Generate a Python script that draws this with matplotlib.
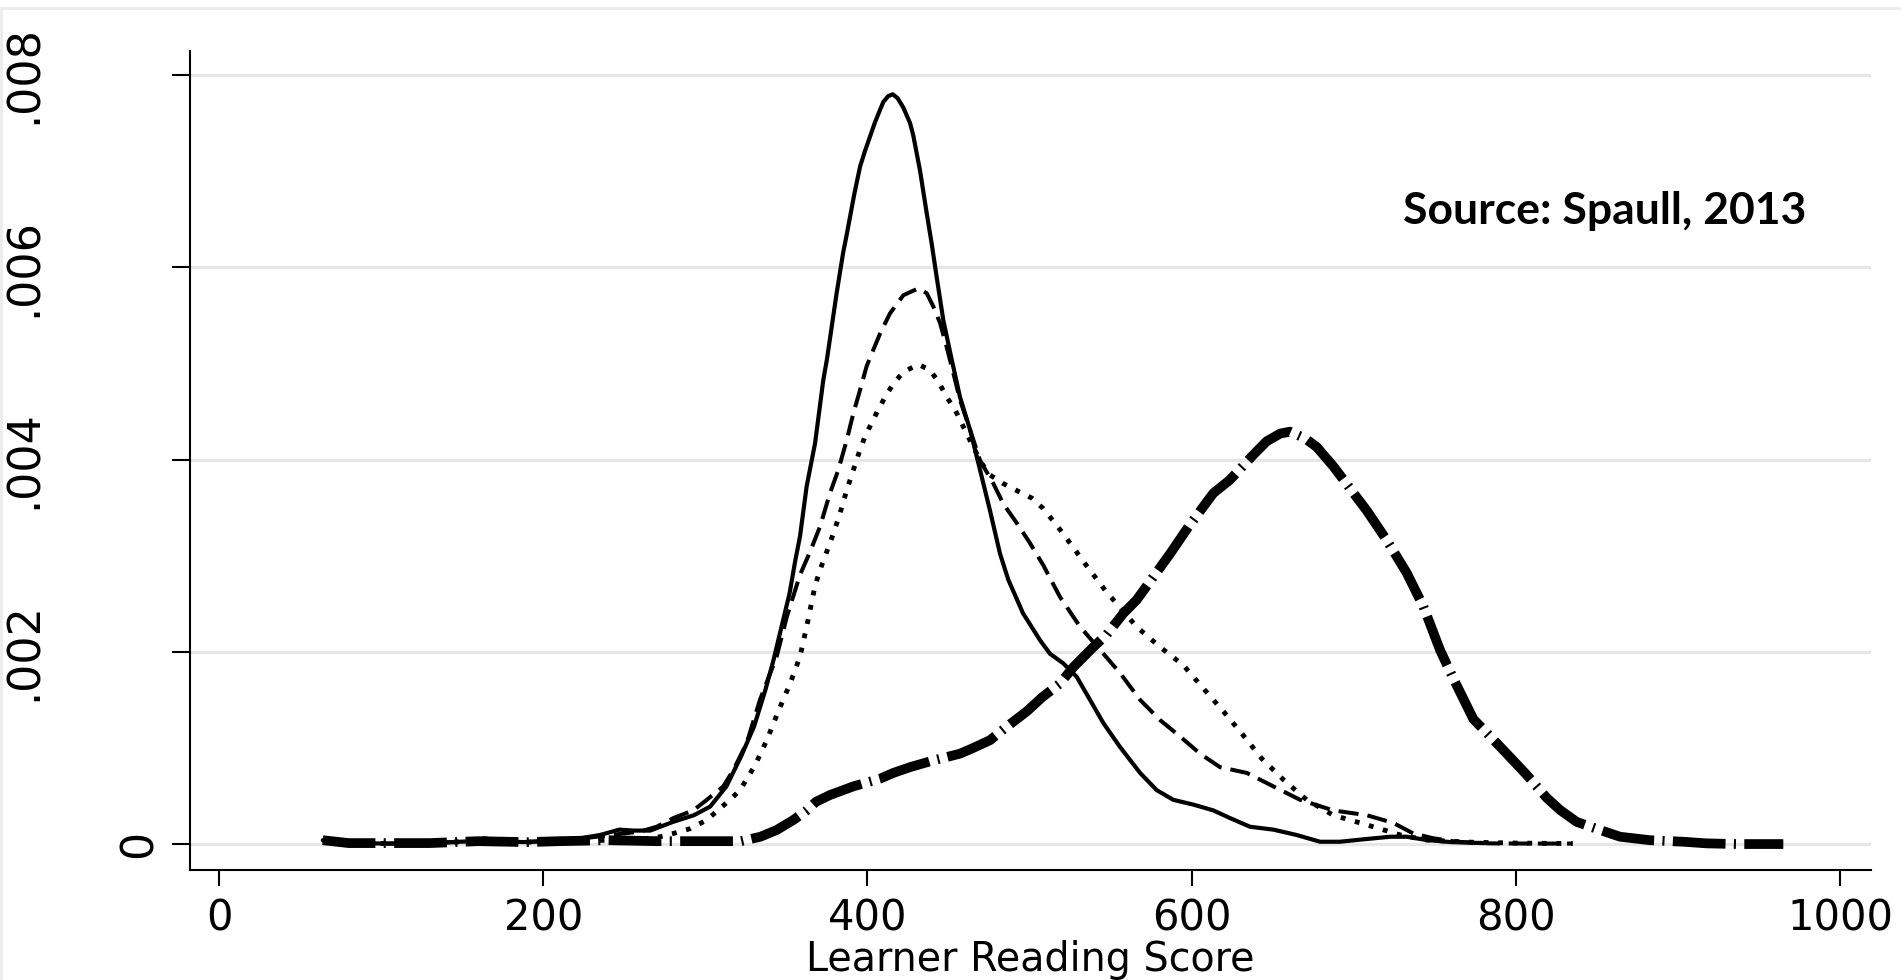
import numpy as np
import matplotlib
matplotlib.use("Agg")
import matplotlib.pyplot as plt
from matplotlib import transforms
from matplotlib.lines import Line2D

# ---------------- data ----------------
x_ticks = [0, 200, 400, 600, 800, 1000]
x_tick_labels = ["0", "200", "400", "600", "800", "1000"]
y_ticks = [0.0, 0.002, 0.004, 0.006, 0.008]
y_tick_labels = ["0", ".002", ".004", ".006", ".008"]
x_label = "Learner Reading Score"
source_note = "Source: Spaull, 2013"

solid_x = [64, 80, 105, 130, 157, 164, 172, 188, 210, 223, 235, 247, 256, 266, 280, 293, 303, 313,
           322, 330, 337, 342, 347, 352, 355.5, 358.4, 362.5, 367.7, 372.8, 375, 381, 385, 387, 392,
           395.5, 398.5, 404.7, 409.8, 412.8, 415.6, 418.6, 422.2, 426.3, 428.3, 432.4, 436.6, 439.6,
           442.7, 446.8, 452, 457.1, 463.3, 469.5, 475.6, 481.8, 486.9, 496, 506.5, 512.6, 520.8,
           529.1, 537.3, 545.5, 555.8, 568.2, 578.5, 588.7, 601.1, 613.4, 623.7, 636, 650.4, 664.8,
           679.2, 691.5, 705.9, 722.4, 732.7, 745, 760, 780]
solid_y = [0.00004, 0.00001, 0.000005, 0.00001, 0.00003, 0.00006, 0.00003, 0.00002, 0.00004, 0.00006,
           0.000094, 0.00015, 0.00014, 0.00014, 0.00023, 0.00030, 0.00039, 0.00060, 0.00091, 0.00122,
           0.00160, 0.00191, 0.00226, 0.00261, 0.00295, 0.00320, 0.00372, 0.00417, 0.00483, 0.00504,
           0.00573, 0.00615, 0.00632, 0.00677, 0.00705, 0.00721, 0.00751, 0.00772, 0.00778, 0.00780,
           0.00776, 0.00766, 0.00750, 0.00737, 0.00701, 0.00656, 0.00625, 0.00590, 0.00545, 0.00504,
           0.00465, 0.00431, 0.00389, 0.00347, 0.00302, 0.00275, 0.00240, 0.00212, 0.00198, 0.00188,
           0.00174, 0.00150, 0.00126, 0.00101, 0.00074, 0.00056, 0.00046, 0.00041, 0.00035, 0.00027,
           0.00018, 0.00015, 0.000094, 0.000024, 0.000024, 0.000049, 0.000076, 0.000076, 0.000042,
           0.00002, 0.00001]

dash_x = [64, 80, 105, 130, 160, 190, 210, 230, 245, 259.7, 270, 280.3, 292.6, 300.9, 311.1, 317.3,
          325.5, 333.7, 344, 350.2, 354.3, 358.4, 364.6, 370.7, 376.9, 382, 387.2, 391.3, 395.4, 399.5,
          403.6, 407.8, 413.9, 422.2, 431.4, 436.6, 440.7, 444.8, 448.9, 453, 457.1, 463.3, 469.5,
          477.7, 483.8, 492.1, 500.3, 508.5, 518.8, 531.2, 543.5, 555.8, 568.2, 580.5, 592.8, 605.2,
          617.5, 634, 650.4, 666.9, 687.4, 708, 724.4, 736.7, 749.1, 763.5, 784.1, 810, 835]
dash_y = [0.00004, 0.00001, 0.000005, 0.00001, 0.00003, 0.00002, 0.00004, 0.00007, 0.00010, 0.00013,
          0.00018, 0.00027, 0.00035, 0.00046, 0.00060, 0.00077, 0.00105, 0.00150, 0.00195, 0.00236,
          0.00258, 0.00280, 0.00304, 0.00330, 0.00365, 0.00389, 0.00420, 0.00448, 0.00472, 0.00497,
          0.00514, 0.00531, 0.00552, 0.00571, 0.00578, 0.00573, 0.00559, 0.00542, 0.00517, 0.00490,
          0.00462, 0.00431, 0.00399, 0.00375, 0.00354, 0.00334, 0.00313, 0.00290, 0.00257, 0.00226,
          0.00202, 0.00178, 0.00150, 0.00129, 0.00112, 0.00094, 0.00080, 0.00074, 0.00060, 0.00046,
          0.00035, 0.00030, 0.00022, 0.00011, 0.00006, 0.000024, 0.000007, 0.000005, 0.000005]

dot_x = [64, 80, 105, 130, 160, 190, 210, 240, 260, 272, 280.3, 290.6, 300.9, 307, 315.2, 321.4, 330.7,
         337.9, 345, 352.3, 358.4, 362.5, 367.6, 370.7, 373.8, 379, 383.1, 387.2, 391.3, 395.4, 398.5,
         402.6, 406.7, 410.9, 416, 422.2, 431.4, 438.6, 443.8, 448.9, 454, 459.2, 465.3, 470.5, 475.6,
         483.8, 494.1, 501.3, 508.5, 519.8, 536.3, 547.6, 553.8, 566.1, 580.5, 594.9, 607.2, 619.6,
         631.9, 643.2, 656.6, 671, 687.4, 708, 728.9, 745, 770, 800, 835]
dot_y = [0.00004, 0.00001, 0.000005, 0.00001, 0.00003, 0.00002, 0.00003, 0.00004, 0.00005, 0.000076,
         0.00011, 0.00016, 0.00025, 0.00034, 0.00046, 0.00056, 0.00082, 0.00108, 0.00138, 0.00167,
         0.00195, 0.00226, 0.00268, 0.00285, 0.00299, 0.00323, 0.00344, 0.00368, 0.00389, 0.00410,
         0.00424, 0.00438, 0.00452, 0.00465, 0.00479, 0.00491, 0.00499, 0.00493, 0.00481, 0.00465,
         0.00452, 0.00434, 0.00413, 0.00396, 0.00384, 0.00375, 0.00366, 0.00360, 0.00349, 0.00325,
         0.00287, 0.00262, 0.00250, 0.00226, 0.00205, 0.00186, 0.00162, 0.00138, 0.00113, 0.00089,
         0.00067, 0.00046, 0.00030, 0.00020, 0.000094, 0.000042, 0.00002, 0.00001, 0.000005]

dashdot_x = [64, 80, 105, 130, 160, 190, 210, 240, 270, 300, 322, 334, 344, 354.3, 362.5, 368.3, 376.9,
             391.3, 407.8, 416, 426.3, 440.7, 457.1, 465.3, 475.6, 485.9, 498.3, 508, 518.8, 527,
             539.4, 547.6, 557.9, 566.1, 576.4, 586.7, 598, 613.4, 623.7, 638.1, 646.3, 654.6, 660.7,
             670, 677.2, 687.4, 700.8, 708, 720.4, 732.7, 743, 753.2, 761.5, 773.8, 788.2, 794.4,
             806.7, 819.1, 827.3, 837.6, 852, 864.3, 882.8, 903.3, 917.7, 936.2, 965]
dashdot_y = [0.00004, 0.00001, 0.00001, 0.00001, 0.00003, 0.00002, 0.00003, 0.00004, 0.00003, 0.00003,
             0.00003, 0.000076, 0.000146, 0.00025, 0.00035, 0.00044, 0.00051, 0.00060, 0.00068,
             0.00074, 0.00080, 0.00087, 0.00094, 0.00100, 0.00108, 0.00122, 0.00138, 0.00153, 0.00167,
             0.00184, 0.00205, 0.00218, 0.00240, 0.00254, 0.00278, 0.00302, 0.00330, 0.00365, 0.00379,
             0.00405, 0.00419, 0.00427, 0.00429, 0.00422, 0.00413, 0.00393, 0.00363, 0.00347, 0.00316,
             0.00282, 0.00247, 0.00202, 0.00172, 0.00130, 0.00105, 0.00094, 0.00072, 0.00048,
             0.000354, 0.00023, 0.000146, 0.000076, 0.00004, 0.000024, 0.000007, 0.0, 0.0]

# ---------------- figure ----------------
plt.rcParams["lines.scale_dashes"] = False
W, H, DPI = 1901, 980, 100
fig = plt.figure(figsize=(W / DPI, H / DPI), dpi=DPI, facecolor="white")

left_px, right_px, top_px, bottom_px = 190, 1871, 51, 870
ax = fig.add_axes([left_px / W, 1 - bottom_px / H, (right_px - left_px) / W, (bottom_px - top_px) / H])
ax.set_xlim(-17.9, 1019.1)
ax.set_ylim(-0.00027, 0.00825)

# light frame around the picture (slide border)
fig.add_artist(Line2D([0, 1], [1 - 8 / H, 1 - 8 / H], transform=fig.transFigure, color="#ebebeb", lw=2))
fig.add_artist(Line2D([1 / W, 1 / W], [0, 1 - 8 / H], transform=fig.transFigure, color="#ebebeb", lw=2))

# grid
for yv in y_ticks:
    ax.axhline(yv, color="#e6e6e6", lw=2.3, zorder=0)

black = "#000000"
ax.plot(solid_x, solid_y, color=black, lw=3.0, solid_capstyle="round", solid_joinstyle="round", zorder=3)
ax.plot(dash_x, dash_y, color=black, lw=2.9, linestyle=(0, (14.5, 6.5)), dash_capstyle="butt", zorder=3)
ax.plot(dot_x, dot_y, color=black, lw=3.5, linestyle=(0, (3.5, 7.0)), dash_capstyle="butt", zorder=3)
ax.plot(dashdot_x, dashdot_y, color=black, lw=7.0, linestyle=(0, (38, 6, 1.5, 6)),
        dash_capstyle="butt", zorder=4)

# axes styling
for s in ["top", "right"]:
    ax.spines[s].set_visible(False)
for s in ["left", "bottom"]:
    ax.spines[s].set_linewidth(1.5)
    ax.spines[s].set_color(black)

ax.set_xticks(x_ticks)
ax.set_xticklabels(x_tick_labels, fontsize=30, fontfamily="DejaVu Sans")
ax.tick_params(axis="x", direction="out", length=11.5, width=1.5, pad=8.5, colors=black)
ax.set_yticks(y_ticks)
ax.tick_params(axis="y", direction="out", length=13, width=1.5, labelleft=False, colors=black)

ax.set_xlabel(x_label, fontsize=28.5, fontfamily="DejaVu Sans", labelpad=0)

# rotated y tick labels (Stata style: the long ones sit further left, near the picture edge)
ytrans = transforms.blended_transform_factory(fig.transFigure, ax.transData)
for yv, lab in zip(y_ticks, y_tick_labels):
    xpx = 161 if lab == "0" else 46
    fig.text(xpx / W, yv, lab, transform=ytrans, rotation=90, ha="right", va="center",
             fontsize=32, fontfamily="DejaVu Sans", color=black)

# source note
ax.text(730.5, 0.00645, source_note, fontsize=32, fontweight="bold", fontfamily="Lato",
        ha="left", va="baseline", color=black)

fig.savefig("out.png", dpi=DPI, facecolor="white")
